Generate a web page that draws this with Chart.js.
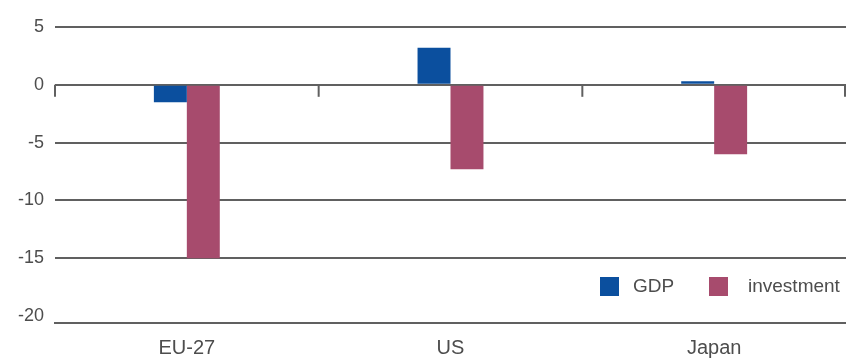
<!DOCTYPE html>
<html>
<head>
<meta charset="utf-8">
<script src="https://cdn.jsdelivr.net/npm/chart.js@4.4.1/dist/chart.umd.min.js"></script>
<style>
  html, body { margin: 0; padding: 0; background: #ffffff; }
  #wrap { width: 846px; height: 359px; position: relative; }
</style>
</head>
<body>
<div id="wrap"><canvas id="c" width="846" height="359"></canvas></div>
<script>
const categories = ["EU-27", "US", "Japan"];
const seriesNames = ["GDP", "investment"];
const gdpValues = [-1.5, 3.2, 0.3];
const investmentValues = [-15.0, -7.3, -6.0];
const yTickValues = [5, 0, -5, -10, -15, -20];

const colors = { gdp: "#0b4f9e", inv: "#a74b6d", grid: "#606060", text: "#4d4d4d" };

const zeroTicks = {
  id: "zeroTicks",
  beforeDatasetsDraw(chart) {
    const x = chart.scales.x, y = chart.scales.y, ctx = chart.ctx;
    const y0 = y.getPixelForValue(0);
    const step = x.getPixelForValue(1) - x.getPixelForValue(0);
    ctx.save();
    ctx.strokeStyle = colors.grid;
    ctx.lineWidth = 2;
    for (let i = 0; i <= categories.length; i++) {
      const px = Math.min(x.getPixelForValue(i) - step / 2, chart.chartArea.right - 1);
      ctx.beginPath();
      ctx.moveTo(px, y0);
      ctx.lineTo(px, y0 + 12);
      ctx.stroke();
    }
    ctx.restore();
  }
};

const insideLegend = {
  id: "insideLegend",
  afterDraw(chart) {
    const ctx = chart.ctx, area = chart.chartArea;
    const items = chart.data.datasets.map(d => ({ label: d.label, color: d.backgroundColor }));
    const starts = [area.right - 246, area.right - 137];
    const gaps = [33, 39];
    const top = 277, size = 19;
    ctx.save();
    ctx.font = "19px 'Liberation Sans', Arial, sans-serif";
    ctx.textBaseline = "middle";
    ctx.textAlign = "left";
    items.forEach((it, i) => {
      ctx.fillStyle = it.color;
      ctx.fillRect(starts[i], top, size, size);
      ctx.fillStyle = colors.text;
      ctx.fillText(it.label, starts[i] + gaps[i], top + size / 2);
    });
    ctx.restore();
  }
};

new Chart(document.getElementById("c"), {
  type: "bar",
  data: {
    labels: categories,
    datasets: [
      { label: seriesNames[0], data: gdpValues, backgroundColor: colors.gdp, borderWidth: 0 },
      { label: seriesNames[1], data: investmentValues, backgroundColor: colors.inv, borderWidth: 0 }
    ]
  },
  options: {
    responsive: false,
    animation: false,
    devicePixelRatio: 1,
    layout: { padding: { top: 27, right: 0, bottom: 0, left: 0 } },
    datasets: { bar: { categoryPercentage: 0.25, barPercentage: 1.0 } },
    plugins: { legend: { display: false }, tooltip: { enabled: false } },
    scales: {
      x: {
        afterFit(s) { s.height = 36; },
        grid: { display: false, drawTicks: false },
        border: { display: true, color: colors.grid, width: 2 },
        ticks: { color: colors.text, padding: 13, maxRotation: 0, font: { family: "'Liberation Sans', Arial, sans-serif", size: 20 } }
      },
      y: {
        min: -20.6,
        max: 5,
        afterFit(s) { s.width = 55; },
        afterBuildTicks(s) { s.ticks = yTickValues.map(v => ({ value: v })); },
        ticks: {
          stepSize: 5,
          includeBounds: false,
          padding: 11,
          color: colors.text,
          font: { family: "'Liberation Sans', Arial, sans-serif", size: 18 }
        },
        grid: {
          drawTicks: false,
          lineWidth: 2,
          color: (c) => (c.tick && c.tick.value === -20 ? "rgba(0,0,0,0)" : colors.grid)
        },
        border: { display: false }
      }
    }
  },
  plugins: [zeroTicks, insideLegend]
});
</script>
</body>
</html>
